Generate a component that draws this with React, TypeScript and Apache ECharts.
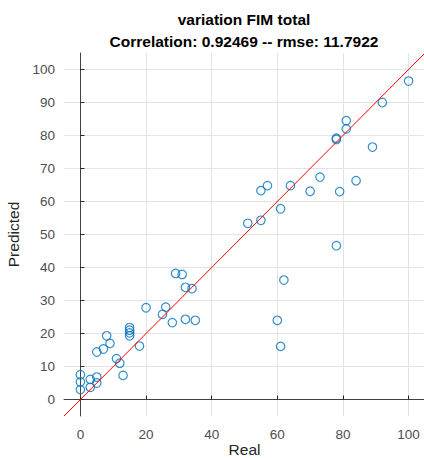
import React, { useEffect, useRef } from "react";
import * as echarts from "echarts";

const realValues = [100, 92, 81, 81, 78, 78, 89, 73, 84, 64, 55, 57, 70, 79, 61, 51, 55, 78, 62, 60, 61, 29, 31, 32, 34, 20, 26, 25, 28, 32, 35, 15, 15, 15, 15, 18, 8, 9, 7, 5, 11, 12, 13, 0, 0, 0, 3, 5, 5, 3];
const predictedValues = [96.5, 90, 84.5, 82, 79.2, 78.8, 76.5, 67.4, 66.3, 64.8, 63.3, 64.8, 63.1, 63, 57.8, 53.4, 54.3, 46.6, 36.2, 24, 16.1, 38.2, 37.9, 34, 33.6, 27.8, 28, 25.8, 23.3, 24.3, 24, 21.8, 21, 20.2, 19.3, 16.2, 19.3, 17, 15.3, 14.4, 12.4, 11, 7.3, 7.5, 5.3, 3, 6.1, 6.8, 5, 3.7];
const xTicks = [0, 20, 40, 60, 80, 100];
const yTicks = [0, 10, 20, 30, 40, 50, 60, 70, 80, 90, 100];
const axisRange = [-5, 105];
const titleLines = ["variation FIM total", "Correlation: 0.92469 -- rmse: 11.7922"];

export default function App() {
  const ref = useRef<HTMLDivElement>(null);
  useEffect(() => {
    if (!ref.current) return;
    const chart = echarts.init(ref.current, undefined, { renderer: "svg" });
    const font = "'Liberation Sans', Arial, Helvetica, sans-serif";
    const axisCommon = (ticks: number[], name: string) => ({
      type: "value" as const,
      min: axisRange[0],
      max: axisRange[1],
      name,
      nameLocation: "middle" as const,
      nameTextStyle: { fontFamily: font, fontSize: 15.5, color: "#262626" },
      axisLine: { show: true, lineStyle: { color: "#404040", width: 1 } },
      axisTick: { show: true, inside: true, length: 4, customValues: ticks, lineStyle: { color: "#262626" } },
      axisLabel: { customValues: ticks, fontFamily: font, fontSize: 13.5, color: "#4d4d4d" },
      splitLine: { show: true, lineStyle: { color: "#e3e3e3", width: 1 } },
    });
    const xAxis: any = axisCommon(xTicks, "Real");
    xAxis.nameGap = 25;
    xAxis.nameMoveOverlap = false;
    xAxis.axisLabel.margin = 11;
    const yAxis: any = axisCommon(yTicks, "Predicted");
    yAxis.nameGap = 38;
    yAxis.axisLabel.margin = 9;
    chart.setOption({
      animation: false,
      title: {
        text: titleLines.join("\n"),
        left: 244,
        textAlign: "center",
        top: 8,
        padding: 0,
        textStyle: { fontFamily: font, fontSize: 15.5, fontWeight: "bold", color: "#000", lineHeight: 22 },
      },
      grid: { left: 64, top: 53, width: 361, height: 363, outerBoundsMode: "none", containLabel: false },
      xAxis,
      yAxis,
      series: [
        {
          type: "scatter",
          data: realValues.map((r, i) => [r, predictedValues[i]]),
          symbol: "circle",
          symbolSize: 8.5,
          itemStyle: { color: "rgba(0,0,0,0)", borderColor: "#0072BD", borderWidth: 1.2 },
          z: 3,
        },
        {
          type: "line",
          data: [[axisRange[0], axisRange[0]], [axisRange[1], axisRange[1]]],
          symbol: "none",
          lineStyle: { color: "#ff0000", width: 1 },
          z: 4,
        },
      ],
    });
    return () => chart.dispose();
  }, []);
  return <div ref={ref} style={{ position: "absolute", left: 0, top: 0, width: 424, height: 458 }} />;
}
